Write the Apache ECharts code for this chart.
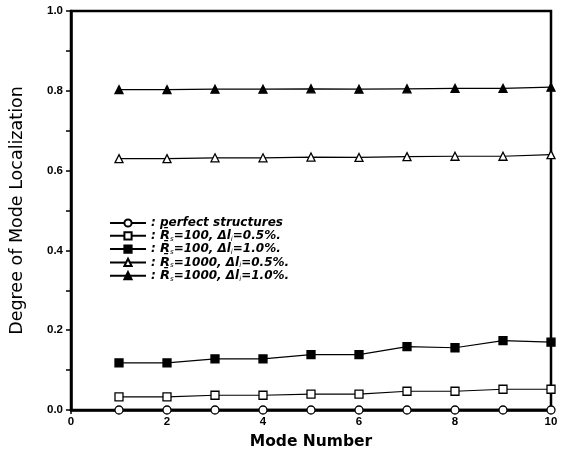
<!DOCTYPE html>
<html><head><meta charset="utf-8">
<script src="https://cdn.jsdelivr.net/npm/echarts@6/dist/echarts.min.js"></script>
<style>html,body{margin:0;padding:0;background:#fff}#c{width:561px;height:458px}</style>
</head><body><div id="c"></div>
<script>
const modes = [1,2,3,4,5,6,7,8,9,10];
const perfect = [0,0,0,0,0,0,0,0,0,0];
const r100_05 = [0.033,0.033,0.037,0.037,0.040,0.040,0.047,0.047,0.052,0.052];
const r100_10 = [0.118,0.118,0.128,0.128,0.139,0.139,0.159,0.156,0.174,0.170];
const r1000_05 = [0.630,0.630,0.632,0.632,0.634,0.633,0.635,0.636,0.636,0.640];
const r1000_10 = [0.803,0.803,0.804,0.804,0.805,0.804,0.805,0.806,0.806,0.809];
const names = ['perfect','r100_05','r100_10','r1000_05','r1000_10'];
const legendText = {
  perfect: '{t|: perfect structures}',
  r100_05: '{t|: }{r|R̄}{s|s}{t|=100, Δl}{s|i}{t|=0.5%.}',
  r100_10: '{t|: }{r|R̄}{s|s}{t|=100, Δl}{s|i}{t|=1.0%.}',
  r1000_05: '{t|: }{r|R̄}{s|s}{t|=1000, Δl}{s|i}{t|=0.5%.}',
  r1000_10: '{t|: }{r|R̄}{s|s}{t|=1000, Δl}{s|i}{t|=1.0%.}'
};
const chart = echarts.init(document.getElementById('c'));
function ser(name, data, symbol, filled, lw){
  return {
    name, type:'line', data: modes.map((m,i)=>[m,data[i]]),
    symbol, symbolSize: 8, showSymbol:true,
    lineStyle:{color:'#000', width:lw||1.2},
    itemStyle:{color: filled?'#000':'#fff', borderColor:'#000', borderWidth:1.3},
    emphasis:{disabled:true}, z: 5
  };
}
const LF = 'DejaVu Sans';
chart.setOption({
  animation:false,
  backgroundColor:'#fff',
  grid:{left:70, right:10, top:11, bottom:48, show:true, borderColor:'#000', borderWidth:2.5, backgroundColor:'transparent'},
  xAxis:{type:'value', min:0, max:10, interval:2,
    name:'Mode Number', nameLocation:'middle', nameGap:24,
    nameTextStyle:{fontFamily:LF, fontSize:15.5, color:'#000', fontWeight:'bold'},
    axisLine:{show:true, lineStyle:{color:'#000', width:2.5}},
    axisTick:{show:true, length:4, inside:false, lineStyle:{color:'#000', width:1.5}},
    axisLabel:{fontFamily:'Liberation Sans', fontSize:11.5, color:'#000', fontWeight:'bold', margin:6},
    splitLine:{show:false}},
  yAxis:{type:'value', min:0, max:1, interval:0.1,
    name:'Degree of Mode Localization', nameLocation:'middle', nameGap:45,
    nameTextStyle:{fontFamily:LF, fontSize:17.5, color:'#000'},
    axisLine:{show:true, lineStyle:{color:'#000', width:2.5}},
    axisTick:{show:true, length:5, lineStyle:{color:'#000', width:1.5}},
    axisLabel:{fontFamily:'Liberation Sans', fontSize:11.5, color:'#000', fontWeight:'bold', margin:8,
      formatter:v=>{const r=Math.round(v*10); return r%2===0 ? (r/10).toFixed(1) : '';}},
    splitLine:{show:false}},
  legend:{orient:'vertical', left:104, top:212, itemWidth:36, itemHeight:9, itemGap:0.3,
    data: names, selectedMode:false,
    formatter: n=>legendText[n],
    textStyle:{color:'#000', rich:{
      t:{fontFamily:LF, fontSize:12, fontStyle:'italic', fontWeight:'bold', color:'#000', lineHeight:13},
      r:{fontFamily:LF, fontSize:13, fontStyle:'italic', fontWeight:'bold', color:'#000', lineHeight:13},
      s:{fontFamily:LF, fontSize:7, fontStyle:'italic', color:'#000', lineHeight:13, verticalAlign:'bottom'}
    }}},
  series:[
    ser('perfect', perfect, 'circle', false, 2.5),
    ser('r100_05', r100_05, 'rect', false),
    ser('r100_10', r100_10, 'rect', true),
    ser('r1000_05', r1000_05, 'triangle', false),
    ser('r1000_10', r1000_10, 'triangle', true)
  ]
});
</script></body></html>
